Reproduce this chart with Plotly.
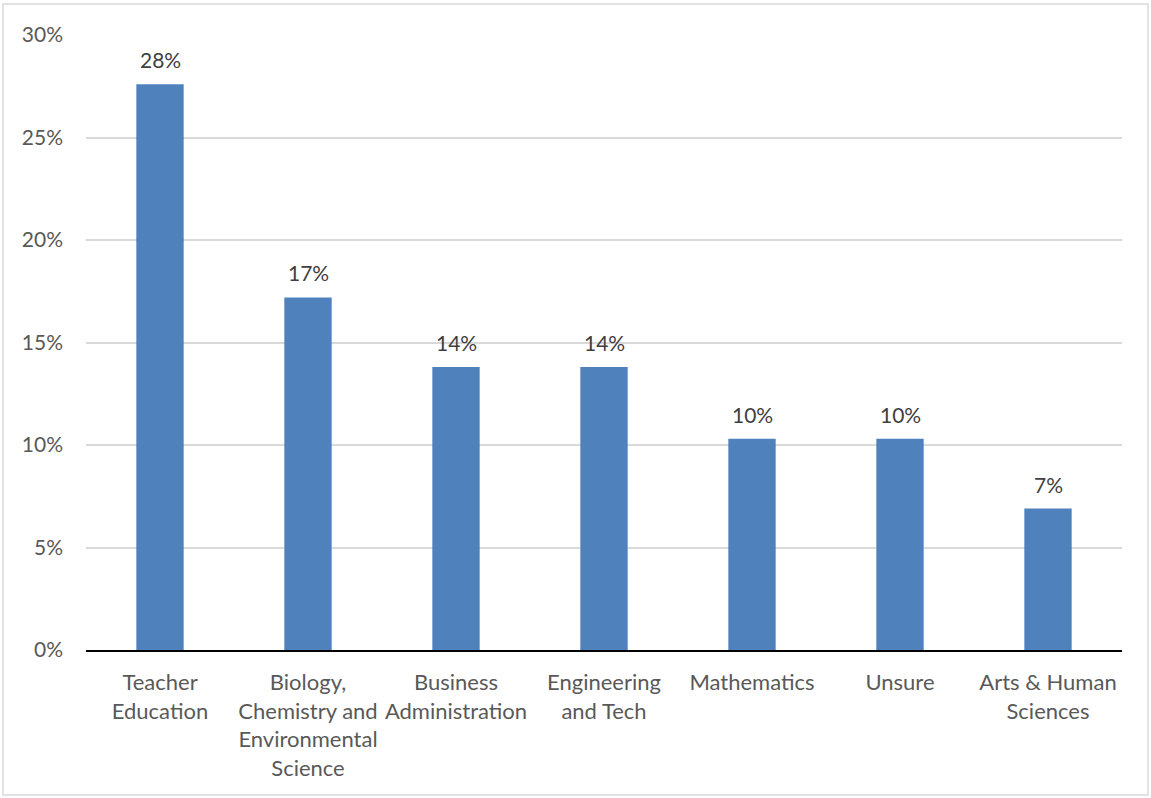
import plotly.graph_objects as go

# Share of respondents by intended field of study
categories = [
    "Teacher<br>Education",
    "Biology,<br>Chemistry and<br>Environmental<br>Science",
    "Business<br>Administration",
    "Engineering<br>and Tech",
    "Mathematics",
    "Unsure",
    "Arts & Human<br>Sciences",
]
shares = [0.276, 0.172, 0.138, 0.138, 0.103, 0.103, 0.069]
y_ticks = [0, 0.05, 0.10, 0.15, 0.20, 0.25, 0.30]

W, H = 1151, 798
ml, mr, mt, mb = 86, 29, 35, 148
pw, ph = W - ml - mr, H - mt - mb

font_family = "Lato, 'Open Sans', sans-serif"

fig = go.Figure(
    go.Bar(
        x=categories,
        y=shares,
        marker=dict(color="#4F81BD", line=dict(width=0)),
        width=0.32,
        hoverinfo="skip",
    )
)

# value labels above each bar
for cat, val in zip(categories, shares):
    fig.add_annotation(
        x=cat, y=val,
        text=f"{val:.0%}",
        showarrow=False,
        yanchor="bottom",
        yshift=10,
        font=dict(size=21, color="#404040", family=font_family),
    )

# outer chart border
fig.add_shape(
    type="rect",
    xref="paper", yref="paper",
    x0=(3 - ml) / pw, x1=(1148 - ml) / pw,
    y0=(H - mb - 795) / ph, y1=(H - mb - 4) / ph,
    line=dict(color="#D9D9D9", width=1.5),
    fillcolor="rgba(0,0,0,0)",
    layer="below",
)

fig.update_layout(
    width=W, height=H,
    margin=dict(l=ml, r=mr, t=mt, b=mb),
    paper_bgcolor="white",
    plot_bgcolor="white",
    showlegend=False,
    font=dict(family=font_family, size=21, color="#595959"),
    xaxis=dict(
        type="category",
        showgrid=False,
        showline=True,
        linecolor="#000000",
        linewidth=1.5,
        ticks="",
        tickangle=0,
        ticklabelstandoff=12,
        tickfont=dict(size=22, color="#595959"),
        fixedrange=True,
    ),
    yaxis=dict(
        range=[0, 0.30],
        tickvals=y_ticks,
        tickformat=".0%",
        showgrid=True,
        gridcolor="#D9D9D9",
        gridwidth=1.5,
        zeroline=False,
        showline=False,
        ticks="",
        ticklabelstandoff=22,
        tickfont=dict(size=21, color="#595959"),
        fixedrange=True,
    ),
)

fig.write_html("out.html")
